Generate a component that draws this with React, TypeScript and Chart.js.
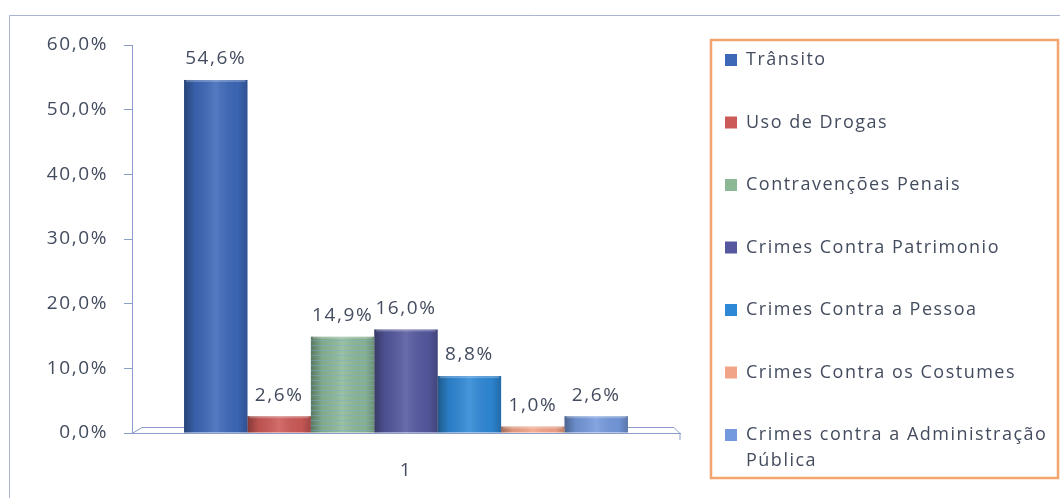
import React, { useEffect, useRef } from 'react';
import { Chart, registerables } from 'chart.js';

Chart.register(...registerables);

const categories = ['1'];
const seriesNames = [
  'Trânsito',
  'Uso de Drogas',
  'Contravenções Penais',
  'Crimes Contra Patrimonio',
  'Crimes Contra a Pessoa',
  'Crimes Contra os Costumes',
  'Crimes contra a Administração Pública',
];
const seriesValues = [54.6, 2.6, 14.9, 16.0, 8.8, 1.0, 2.6];
const seriesColors = ['#3d68b8', '#cc5a58', '#8cb896', '#55589e', '#2e88d6', '#f2a488', '#7499dc'];
const yMin = 0;
const yMax = 60;
const yStep = 10;

const FONT = '"Open Sans", "DejaVu Sans", sans-serif';
const TEXT = '#434c5e';
const AXIS = '#8b9cc8';

const fmt = (v: number) => v.toFixed(1).replace('.', ',') + '%';

const backgroundPlugin = {
  id: 'bgFrame',
  beforeDraw(chart: any) {
    const ctx = chart.ctx;
    (ctx as any).letterSpacing = '1.6px';
    ctx.save();
    ctx.fillStyle = '#ffffff';
    ctx.fillRect(0, 0, chart.width, chart.height);
    ctx.strokeStyle = '#aab4d0';
    ctx.lineWidth = 1;
    ctx.beginPath();
    ctx.moveTo(9.5, chart.height);
    ctx.lineTo(9.5, 15.5);
    ctx.lineTo(chart.width, 15.5);
    ctx.stroke();
    ctx.restore();
  },
};

const floorPlugin = {
  id: 'floor',
  beforeDatasetsDraw(chart: any) {
    const { ctx, chartArea } = chart;
    const { left, right, bottom } = chartArea;
    ctx.save();
    ctx.strokeStyle = AXIS;
    ctx.lineWidth = 1;
    ctx.beginPath();
    ctx.moveTo(left, bottom + 0.5);
    ctx.lineTo(left + 10, bottom - 5.5);
    ctx.lineTo(right - 6, bottom - 5.5);
    ctx.lineTo(right, bottom + 0.5);
    ctx.lineTo(right, bottom + 7);
    ctx.stroke();
    ctx.restore();
  },
};

const shadePlugin = {
  id: 'shade',
  afterDatasetsDraw(chart: any) {
    const ctx = chart.ctx;
    ctx.save();
    chart.data.datasets.forEach((ds: any, di: number) => {
      const meta = chart.getDatasetMeta(di);
      meta.data.forEach((bar: any) => {
        const l = bar.x - bar.width / 2;
        const w = bar.width;
        const top = bar.y;
        const h = bar.base - bar.y;
        const g = ctx.createLinearGradient(l, 0, l + w, 0);
        g.addColorStop(0, 'rgba(0,0,0,0.35)');
        g.addColorStop(0.18, 'rgba(0,0,0,0.08)');
        g.addColorStop(0.5, 'rgba(255,255,255,0.12)');
        g.addColorStop(0.85, 'rgba(0,0,0,0.04)');
        g.addColorStop(1, 'rgba(0,0,0,0.22)');
        ctx.fillStyle = g;
        ctx.fillRect(l, top, w, h);
        if (di === 2) {
          ctx.strokeStyle = 'rgba(120,170,210,0.45)';
          ctx.lineWidth = 1;
          for (let yy = top + 3; yy < top + h; yy += 5) {
            ctx.beginPath();
            ctx.moveTo(l, Math.round(yy) + 0.5);
            ctx.lineTo(l + w, Math.round(yy) + 0.5);
            ctx.stroke();
          }
        }
        ctx.fillStyle = 'rgba(255,255,255,0.25)';
        ctx.fillRect(l + 2, top, w - 4, 2);
      });
    });
    ctx.restore();
  },
};

const labelPlugin = {
  id: 'valueLabels',
  afterDatasetsDraw(chart: any) {
    const ctx = chart.ctx;
    ctx.save();
    ctx.font = `19px ${FONT}`;
    ctx.fillStyle = TEXT;
    ctx.textAlign = 'center';
    ctx.textBaseline = 'middle';
    chart.data.datasets.forEach((ds: any, di: number) => {
      const meta = chart.getDatasetMeta(di);
      meta.data.forEach((bar: any, i: number) => {
        ctx.fillText(fmt(ds.data[i]), bar.x, bar.y - 21);
      });
    });
    ctx.restore();
  },
};

const legendPlugin = {
  id: 'boxLegend',
  afterDraw(chart: any) {
    const ctx = chart.ctx;
    const bx = 711, by = 40, bw = 347, bh = 438;
    ctx.save();
    ctx.strokeStyle = '#f4a46e';
    ctx.lineWidth = 2.5;
    ctx.strokeRect(bx, by, bw, bh);
    ctx.font = `18px ${FONT}`;
    (ctx as any).letterSpacing = '1.5px';
    ctx.textBaseline = 'middle';
    ctx.textAlign = 'left';
    const textX = 746;
    const maxW = bx + bw - textX - 2;
    chart.data.datasets.forEach((ds: any, i: number) => {
      const cy = 60 + i * 62.5;
      ctx.fillStyle = ds.backgroundColor;
      ctx.fillRect(725, cy - 6, 12, 12);
      ctx.fillStyle = TEXT;
      const words = String(ds.label).split(' ');
      const lines: string[] = [];
      let cur = '';
      words.forEach((w) => {
        const t = cur ? cur + ' ' + w : w;
        if (ctx.measureText(t).width > maxW && cur) {
          lines.push(cur);
          cur = w;
        } else cur = t;
      });
      if (cur) lines.push(cur);
      lines.forEach((ln, k) => ctx.fillText(ln, textX, cy + k * 26));
    });
    ctx.restore();
  },
};

export default function App() {
  const ref = useRef<HTMLCanvasElement | null>(null);
  useEffect(() => {
    if (!ref.current) return;
    const chart = new Chart(ref.current, {
      type: 'bar',
      data: {
        labels: categories,
        datasets: seriesNames.map((name, i) => ({
          label: name,
          data: [seriesValues[i]],
          backgroundColor: seriesColors[i],
          borderWidth: 0,
          barPercentage: 1,
          categoryPercentage: 0.81,
        })),
      },
      options: {
        animation: false,
        responsive: false,
        layout: { padding: { left: 0, right: 380, top: 45, bottom: 0 } },
        plugins: { legend: { display: false }, tooltip: { enabled: false } },
        scales: {
          x: {
            afterFit: (scale: any) => {
              scale.height = 65;
            },
            grid: { display: true, drawOnChartArea: false, drawTicks: false },
            border: { display: true, color: AXIS },
            ticks: { color: TEXT, font: { size: 19, family: FONT }, padding: 26 },
          },
          y: {
            min: yMin,
            max: yMax,
            afterFit: (scale: any) => {
              scale.width = 132;
            },
            grid: { drawOnChartArea: false, drawTicks: true, tickLength: 8, color: AXIS },
            border: { display: true, color: AXIS },
            ticks: {
              stepSize: yStep,
              color: TEXT,
              padding: 16,
              font: { size: 19, family: FONT },
              callback: (v: any) => fmt(Number(v)),
            },
          },
        },
      },
      plugins: [backgroundPlugin, floorPlugin, shadePlugin, labelPlugin, legendPlugin],
    });
    return () => chart.destroy();
  }, []);
  return (
    <div style={{ position: 'fixed', left: 0, top: 0, width: 1060, height: 498, background: '#fff' }}>
      <canvas ref={ref} width={1060} height={498} style={{ width: 1060, height: 498, display: 'block' }} />
    </div>
  );
}
